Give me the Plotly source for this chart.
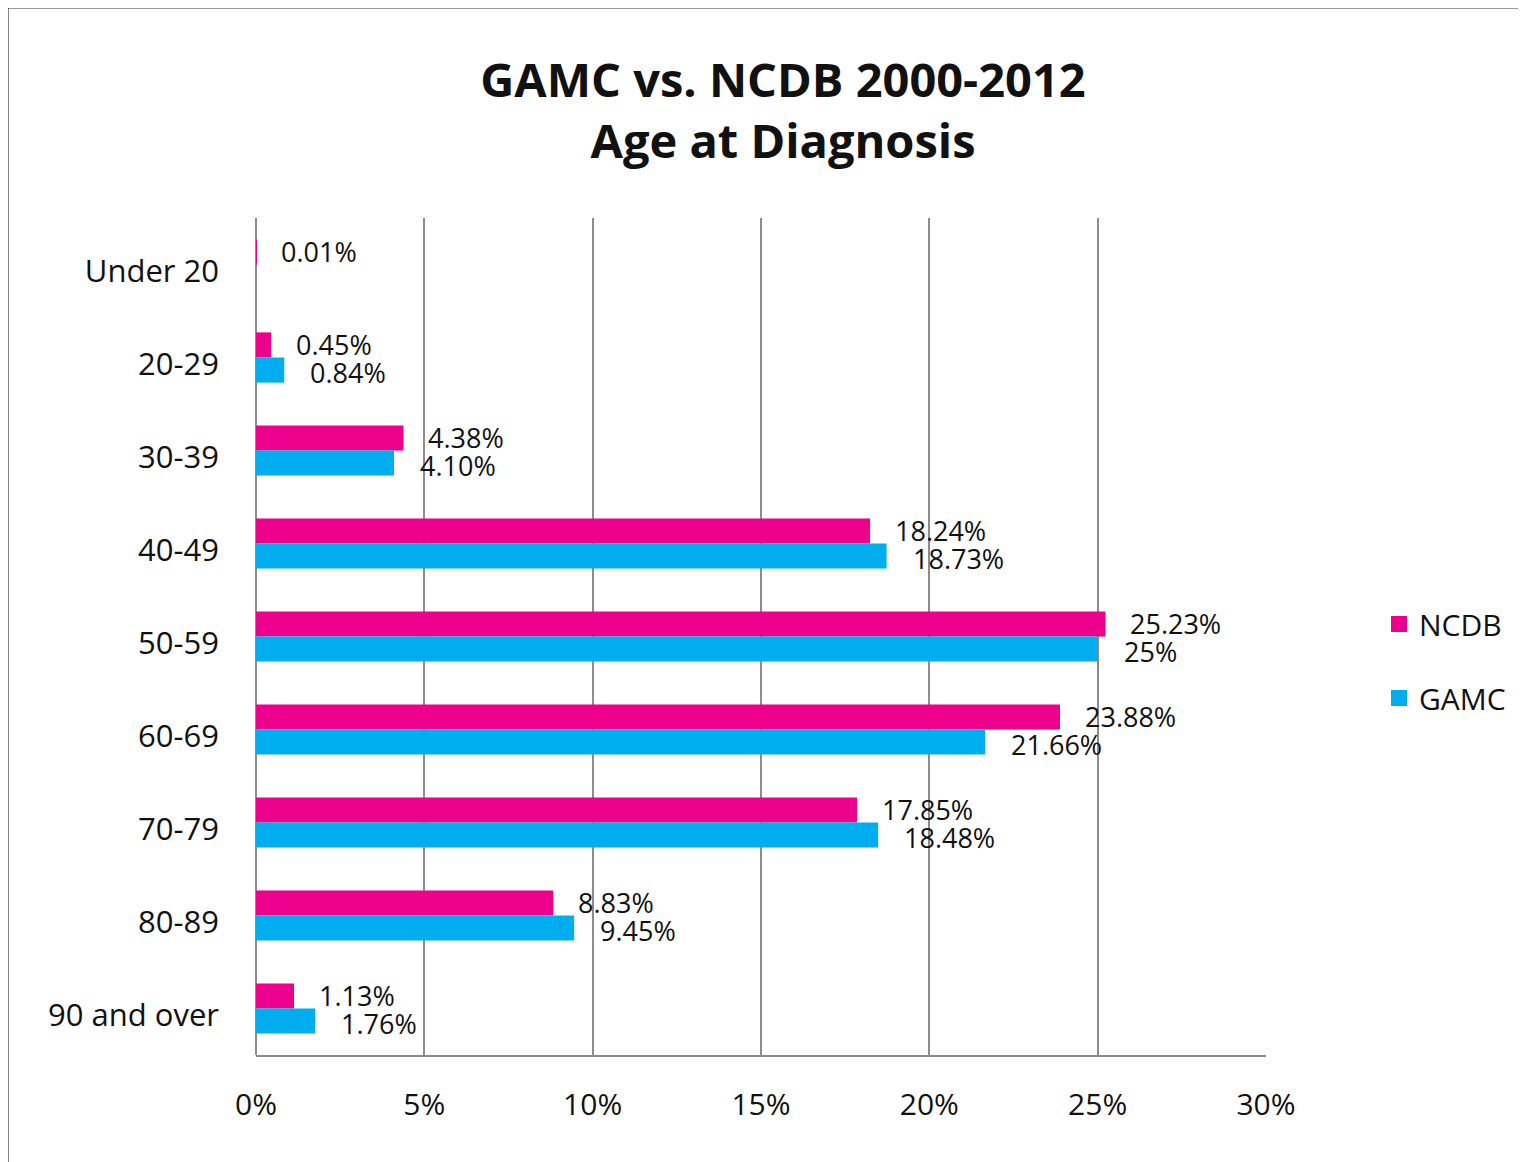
import plotly.graph_objects as go

categories = ["Under 20", "20-29", "30-39", "40-49", "50-59", "60-69", "70-79", "80-89", "90 and over"]
ncdb = [0.01, 0.45, 4.38, 18.24, 25.23, 23.88, 17.85, 8.83, 1.13]
gamc = [0, 0.84, 4.10, 18.73, 25, 21.66, 18.48, 9.45, 1.76]
ncdb_labels = ["0.01%", "0.45%", "4.38%", "18.24%", "25.23%", "23.88%", "17.85%", "8.83%", "1.13%"]
gamc_labels = ["", "0.84%", "4.10%", "18.73%", "25%", "21.66%", "18.48%", "9.45%", "1.76%"]
x_ticks = [0, 5, 10, 15, 20, 25, 30]
x_tick_text = ["0%", "5%", "10%", "15%", "20%", "25%", "30%"]

PINK = "#EC008C"
CYAN = "#00AEEF"
FONT = "Open Sans"

fig = go.Figure()
fig.add_trace(go.Bar(y=categories, x=ncdb, name="NCDB", orientation="h",
                     marker=dict(color=PINK, line=dict(width=0)), showlegend=False))
fig.add_trace(go.Bar(y=categories, x=gamc, name="GAMC", orientation="h",
                     marker=dict(color=CYAN, line=dict(width=0)), showlegend=False))
# legend entries with larger square swatches
fig.add_trace(go.Scatter(x=[None], y=[None], mode="markers", name="NCDB", legendgroup="a",
                         marker=dict(symbol="square", size=22, color=PINK)))
fig.add_trace(go.Scatter(x=[None], y=[None], mode="markers", name="GAMC", legendgroup="b",
                         marker=dict(symbol="square", size=22, color=CYAN)))

annotations = []
for cat, v, t in zip(categories, ncdb, ncdb_labels):
    if t:
        annotations.append(dict(x=v, y=cat, text=t, showarrow=False, xanchor="left",
                                yanchor="middle", xshift=23, yshift=13,
                                font=dict(family=FONT, size=27, color="#111")))
for cat, v, t in zip(categories, gamc, gamc_labels):
    if t:
        annotations.append(dict(x=v, y=cat, text=t, showarrow=False, xanchor="left",
                                yanchor="middle", xshift=24, yshift=-15,
                                font=dict(family=FONT, size=27, color="#111")))

OFF = 8
W, H = 1526 - OFF, 1162 - OFF
L, R, T, B = 256 - OFF, 1266 - OFF, 218 - OFF, 1055 - OFF

fig.update_layout(
    width=W, height=H,
    margin=dict(l=L, r=W - R, t=T, b=H - B, pad=0),
    paper_bgcolor="white", plot_bgcolor="white",
    barmode="group", bargap=0.46, bargroupgap=0,
    title=dict(text="<b>GAMC vs. NCDB 2000-2012<br>Age at Diagnosis</b>",
               font=dict(family=FONT, size=47, color="#111"),
               x=(783 - OFF) / W, xref="container", xanchor="center",
               y=1 - (97 - OFF) / H, yref="container", yanchor="middle"),
    font=dict(family=FONT, color="#111"),
    legend=dict(x=(1379 - OFF - L) / (R - L), xanchor="left", y=(B - (598 - OFF)) / (B - T), yanchor="top",
                font=dict(family=FONT, size=30, color="#111"),
                traceorder="grouped", tracegroupgap=32, bgcolor="rgba(0,0,0,0)",
                itemwidth=30),
    annotations=annotations,
    shapes=[dict(type="rect", xref="paper", yref="paper",
                 x0=(8 - OFF - L) / (R - L), x1=(1560 - L) / (R - L),
                 y0=(B - 1200) / (B - T), y1=(B - 0) / (B - T),
                 line=dict(color="#333", width=1.2), fillcolor="rgba(0,0,0,0)", layer="below")],
)

fig.update_xaxes(range=[0, 30], tickvals=x_ticks, ticktext=x_tick_text,
                 showgrid=True, gridcolor="#8c8c8c", gridwidth=1.5,
                 showline=True, linecolor="#8c8c8c", linewidth=1.5,
                 zeroline=True, zerolinecolor="#8c8c8c", zerolinewidth=1.5,
                 ticks="", ticklabelstandoff=22,
                 tickfont=dict(family=FONT, size=30, color="#111"))
fig.update_yaxes(autorange="reversed", showgrid=False, showline=False,
                 ticks="", ticklabelstandoff=36, ticklabelshift=-7,
                 tickfont=dict(family=FONT, size=31, color="#111"))

fig.write_html("out.html")
